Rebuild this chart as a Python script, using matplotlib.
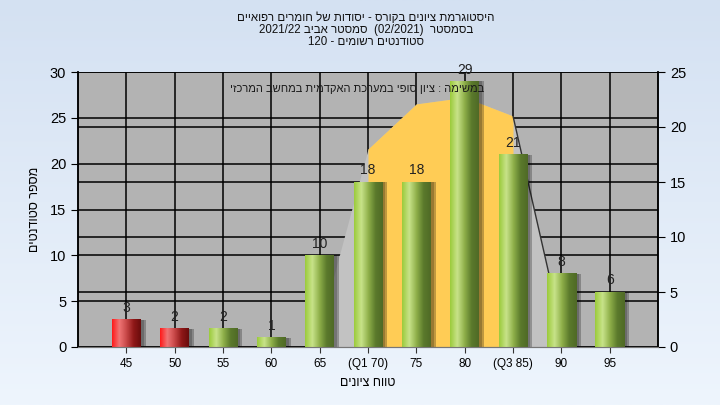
import numpy as np
import matplotlib
matplotlib.use("Agg")
import matplotlib.pyplot as plt
from matplotlib.colors import LinearSegmentedColormap

plt.rcParams['font.family'] = ['Liberation Sans', 'DejaVu Sans']

# data
categories = ['45', '50', '55', '60', '65', '(Q1 70)', '75', '80', '(Q3 85)', '90', '95']
counts = [3, 2, 2, 1, 10, 18, 18, 29, 21, 8, 6]
failing = [True, True, False, False, False, False, False, False, False, False, False]
# frequency curve on the right axis (category index, value)
curve_idx = [4, 5, 6, 7, 8, 9]
curve_val = [1.7, 18, 22.1, 22.7, 21.0, 1.7]
q_from, q_to = 5, 8  # Q1..Q3 band

title_lines = ["היסטוגרמת ציונים בקורס - יסודות של חומרים רפואיים",
               "בסמסטר  (02/2021)  סמסטר אביב 2021/22",
               "סטודנטים רשומים - 120"]
note = "במשימה : ציון סופי במערכת האקדמית במחשב המרכזי"
xlabel = "טווח ציונים"
ylabel = "מספר סטודנטים"


def heb(s):
    # matplotlib has no bidi: put hebrew words in visual order
    out = []
    for w in reversed(s.split(' ')):
        if any('\u0590' <= c <= '\u05ff' for c in w):
            out.append(w[::-1])
        else:
            out.append(w)
    return ' '.join(out)


fig = plt.figure(figsize=(7.2, 4.05), dpi=100)

# light blue gradient background
bg = fig.add_axes([0, 0, 1, 1], zorder=-10)
grad = np.linspace(0, 1, 256).reshape(-1, 1)
bg.imshow(grad, aspect='auto', extent=[0, 1, 0, 1],
          cmap=LinearSegmentedColormap.from_list('bg', ['#d4e1f2', '#eef5fd']))
bg.axis('off')

ax = fig.add_axes([78 / 720, 58 / 405, 580 / 720, 275 / 405])
ax2 = ax.twinx()
ax.set_facecolor('#b3b3b3')
ax.set_xlim(-1, len(categories))
ax.set_ylim(0, 30)
ax2.set_ylim(0, 25)
x = np.arange(len(categories))

# grid lines for both scales
ax.set_yticks(range(0, 31, 5))
ax2.set_yticks(range(0, 26, 5))
ax.hlines(range(0, 31, 5), -1, len(categories), color='black', lw=1.1, zorder=1)
ax.hlines(range(0, 26, 5), -1, len(categories), color='black', lw=1.1, zorder=1,
          transform=ax2.transData)
ax.vlines(x, 0, 30, color='black', lw=1.1, zorder=1)

# frequency curve: grey area, yellow between quartiles
cx = np.array(curve_idx)
cv = np.array(curve_val)
ax.fill_between(cx, 0, cv, color='#c2c2c2', lw=0, zorder=1.5, transform=ax2.transData)
band = (cx >= q_from) & (cx <= q_to)
ax.fill_between(cx[band], 0, cv[band], color='#ffcc55', lw=0, zorder=1.6,
                transform=ax2.transData)
ax.plot(cx[-2:], cv[-2:], color='#333333', lw=1, zorder=1.7, transform=ax2.transData)

# cylinder-like bars
green = LinearSegmentedColormap.from_list('g', ['#9ccb3c', '#c8e38a', '#8fb04a', '#5b7a2c', '#4f6a26'])
red = LinearSegmentedColormap.from_list('r', ['#ff1a1a', '#f07575', '#c84848', '#901818', '#6a0c0c'])
w = 0.6
hgrad = np.linspace(0, 1, 64).reshape(1, -1)
for xi, v, f in zip(x, counts, failing):
    top = min(v, 30)
    ax.bar(xi + 0.1, top, width=w, color='#000000', alpha=0.25, zorder=2)
    ax.bar(xi + 0.06, top, width=w, color='#000000', alpha=0.2, zorder=2)
    ax.imshow(hgrad, aspect='auto', extent=[xi - w / 2, xi + w / 2, 0, top],
              cmap=red if f else green, zorder=3)
    ax.text(xi, top + 0.5, str(v), ha='center', va='bottom', fontsize=10,
            color='#222222', zorder=4)
ax.set_xlim(-1, len(categories))
ax.set_ylim(0, 30)

ax.set_xticks(x)
ax.set_xticklabels(categories, fontsize=8.5)
ax.tick_params(axis='x', length=4, color='#333333', pad=4)
ax.tick_params(axis='y', length=5, labelsize=10.5, colors='black')
ax2.tick_params(axis='y', length=5, labelsize=10.5)
for a in (ax, ax2):
    a.spines['top'].set_visible(False)
    a.spines['bottom'].set_color('#777777')
    a.spines['left'].set_linewidth(1.1)
    a.spines['right'].set_linewidth(1.1)

ax.text(0.70, 0.955, heb(note), transform=ax.transAxes, ha='right', va='top',
        fontsize=8, color='#1a1a1a', zorder=5)
ax.set_xlabel(heb(xlabel), fontsize=9, labelpad=5)
ax.set_ylabel(heb(ylabel), fontsize=9, labelpad=6)

for i, line in enumerate(title_lines):
    fig.text(366 / 720, 1 - (18 + 12 * i) / 405, heb(line), ha='center', va='center',
             fontsize=8.3, color='#111111')

fig.savefig('out.png', dpi=100)
